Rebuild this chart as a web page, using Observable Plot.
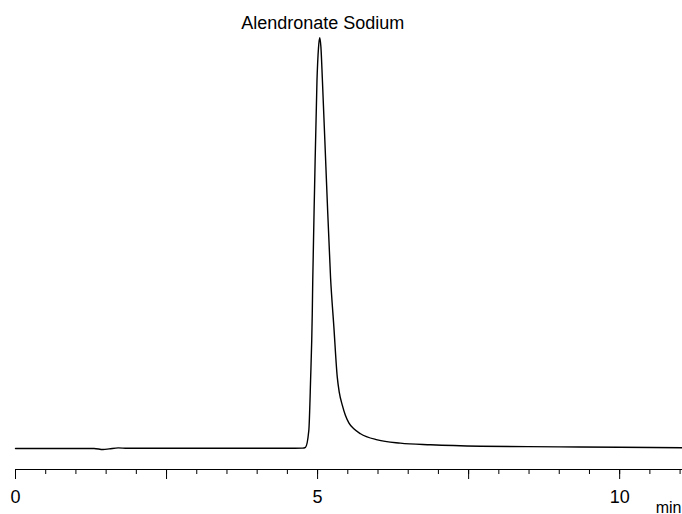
<!DOCTYPE html>
<html>
<head>
<meta charset="utf-8">
<script src="https://cdn.jsdelivr.net/npm/d3@7"></script>
<script src="https://cdn.jsdelivr.net/npm/@observablehq/plot@0.6"></script>
<style>
  html, body { margin: 0; padding: 0; background: #fff; }
  #chart { width: 682px; height: 514px; overflow: hidden; }
</style>
</head>
<body>
<div id="chart"></div>
<script>
// Retention time (min) and detector response (relative, peak = 100)
const times = [0, 0.5, 1.0, 1.3, 1.45, 1.55, 1.7, 1.85, 2.5, 3.5, 4.5, 4.75, 4.8, 4.855, 4.884, 4.912, 4.92, 4.95, 4.99, 5.015, 5.035, 5.055, 5.08, 5.15, 5.215, 5.27, 5.325, 5.36, 5.41, 5.46, 5.52, 5.6, 5.71, 5.99, 6.37, 6.87, 7.7, 9.0, 10.0, 11.04];
const signal = [0, 0, 0, 0, -0.25, -0.1, 0.15, 0.05, 0.05, 0.05, 0.05, 0.1, 0.3, 4.4, 16.6, 32.9, 40.9, 63.3, 89.6, 97.5, 100, 97.8, 89.6, 64, 41.5, 29.5, 17.5, 13.6, 10.5, 8.1, 6.2, 4.8, 3.6, 2.1, 1.3, 0.9, 0.56, 0.41, 0.3, 0.17];
const minorTicks = d3.range(0, 11.01, 0.5);
const majorTicks = [0, 2.5, 5, 7.5, 10];
const tickLabels = [0, 5, 10];
const peakName = "Alendronate Sodium";
const peakTime = 5.035;
const peakHeight = 100;
const unitLabel = "min";

const data = times.map((t, i) => ({t, v: signal[i]}));

const chart = Plot.plot({
  width: 682,
  height: 514,
  marginLeft: 15,
  marginRight: 0,
  marginTop: 37.3,
  marginBottom: 45,
  style: {fontFamily: "Liberation Sans, Arial, sans-serif", color: "#000", background: "#fff"},
  x: {domain: [0, 11.04]},
  y: {domain: [-5.11, 100], axis: null},
  marks: [
    Plot.frame({anchor: "bottom", stroke: "#000", strokeWidth: 1}),
    Plot.axisX({ticks: minorTicks, tickSize: 5, text: null, label: null, stroke: "#000"}),
    Plot.axisX({ticks: majorTicks, tickSize: 10, text: null, label: null, stroke: "#000"}),
    Plot.axisX({ticks: tickLabels, tickSize: 0, tickPadding: 21, label: null, fontSize: 18, fill: "#000"}),
    Plot.line(data, {x: "t", y: "v", curve: "monotone-x", stroke: "#000", strokeWidth: 1.4}),
    Plot.text([peakName], {x: peakTime, y: peakHeight, text: d => d, lineAnchor: "bottom", dy: -9, dx: 3, fontSize: 18, fill: "#000"}),
    Plot.text([unitLabel], {frameAnchor: "bottom-right", text: d => d, textAnchor: "end", lineAnchor: "bottom", dx: -1, dy: 43, fontSize: 16, fill: "#000"})
  ]
});
document.getElementById("chart").appendChild(chart);
</script>
</body>
</html>
